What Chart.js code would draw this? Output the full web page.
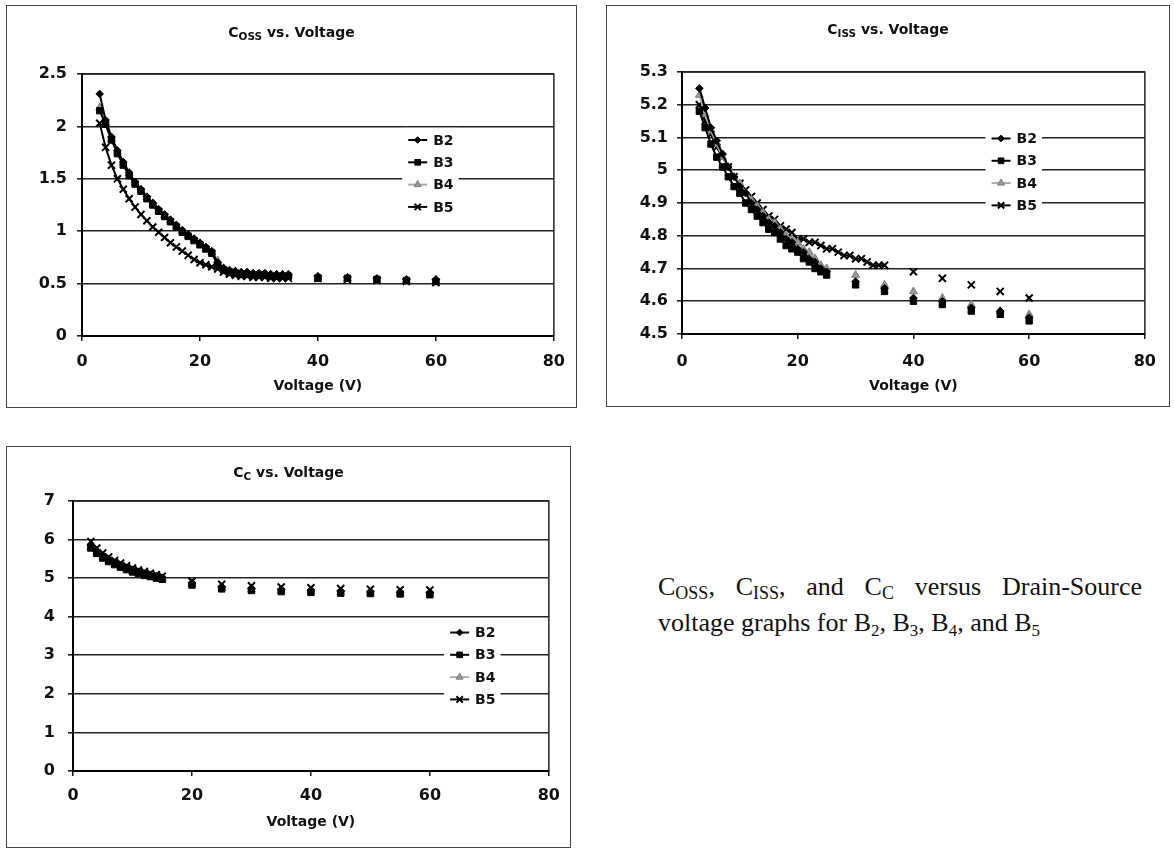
<!DOCTYPE html>
<html>
<head>
<meta charset="utf-8">
<script src="https://cdn.jsdelivr.net/npm/chart.js@4.4.0/dist/chart.umd.min.js"></script>
<style>
html,body{margin:0;padding:0;background:#fff;width:1174px;height:850px;overflow:hidden;}
.box{position:absolute;border:1px solid #444;background:#fff;}
.box canvas{position:absolute;left:0;top:0;}
.ttl{position:absolute;left:0;right:0;text-align:center;font-family:"DejaVu Sans";font-weight:bold;font-size:14px;color:#111;line-height:18px;white-space:nowrap;}
.ttl .s{font-size:10.5px;position:relative;top:3px;}
.cap{position:absolute;left:658px;font-family:"Liberation Serif";font-size:26px;color:#111;line-height:36px;}
.cap .l1{width:484px;text-align:justify;text-align-last:justify;}
.cap .sb{font-size:18px;position:relative;top:4px;line-height:0;}
.cap .sn{font-size:17px;position:relative;top:5px;line-height:0;}
</style>
</head>
<body>
<div class="box" style="left:6px;top:5px;width:569px;height:401px;">
  <canvas id="c1" width="569" height="401"></canvas>
  <div class="ttl" style="top:17px;">C<span class="s">OSS</span> vs. Voltage</div>
</div>
<div class="box" style="left:606px;top:5px;width:562px;height:400px;">
  <canvas id="c2" width="562" height="400"></canvas>
  <div class="ttl" style="top:14px;">C<span class="s">ISS</span> vs. Voltage</div>
</div>
<div class="box" style="left:6px;top:446px;width:563px;height:400px;">
  <canvas id="c3" width="563" height="400"></canvas>
  <div class="ttl" style="top:16px;">C<span class="s">C</span> vs. Voltage</div>
</div>
<div class="cap" style="top:569px;">
  <div class="l1">C<span class="sb">OSS</span>, C<span class="sb">ISS</span>, and C<span class="sb">C</span> versus Drain-Source</div>
  <div class="l2">voltage graphs for B<span class="sn">2</span>, B<span class="sn">3</span>, B<span class="sn">4</span>, and B<span class="sn">5</span></div>
</div>
<script>
// ---------------- DATA ----------------
const seriesNames = ['B2', 'B3', 'B4', 'B5'];
const voltTicks = [0, 20, 40, 60, 80];
const cossTicks = [0, 0.5, 1, 1.5, 2, 2.5];
const cissTicks = [4.5, 4.6, 4.7, 4.8, 4.9, 5, 5.1, 5.2, 5.3];
const ccTicks = [0, 1, 2, 3, 4, 5, 6, 7];

// Coss (all series share the same voltages)
const vCoss = [3,4,5,6,7,8,9,10,11,12,13,14,15,16,17,18,19,20,21,22,23,24,25,26,27,28,29,30,31,32,33,34,35,40,45,50,55,60];
const cossB2 = [2.31,2.06,1.90,1.77,1.66,1.56,1.47,1.40,1.33,1.27,1.21,1.16,1.11,1.06,1.01,0.97,0.93,0.89,0.85,0.81,0.70,0.65,0.63,0.62,0.61,0.61,0.60,0.60,0.60,0.59,0.59,0.59,0.59,0.57,0.56,0.55,0.54,0.54];
const cossB3 = [2.15,2.02,1.87,1.74,1.63,1.53,1.45,1.38,1.31,1.25,1.19,1.14,1.09,1.04,0.99,0.95,0.91,0.87,0.83,0.79,0.68,0.63,0.61,0.60,0.59,0.59,0.58,0.58,0.58,0.57,0.57,0.57,0.57,0.55,0.55,0.54,0.53,0.52];
const cossB4 = [2.18,2.03,1.88,1.76,1.65,1.55,1.46,1.39,1.32,1.26,1.20,1.15,1.10,1.05,1.00,0.96,0.92,0.88,0.84,0.80,0.72,0.64,0.62,0.61,0.60,0.60,0.59,0.59,0.59,0.58,0.58,0.58,0.58,0.56,0.55,0.54,0.53,0.53];
const cossB5 = [2.03,1.80,1.63,1.50,1.40,1.31,1.23,1.16,1.10,1.04,0.99,0.94,0.89,0.85,0.81,0.77,0.73,0.70,0.68,0.66,0.64,0.61,0.59,0.58,0.57,0.57,0.56,0.56,0.56,0.55,0.55,0.55,0.55,0.55,0.54,0.53,0.52,0.51];

// Ciss (B2-B4 dense to 25 V, B5 dense to 35 V)
const vCiss = [3,4,5,6,7,8,9,10,11,12,13,14,15,16,17,18,19,20,21,22,23,24,25,30,35,40,45,50,55,60];
const vCissB5 = [3,4,5,6,7,8,9,10,11,12,13,14,15,16,17,18,19,20,21,22,23,24,25,26,27,28,29,30,31,32,33,34,35,40,45,50,55,60];
const cissB2 = [5.25,5.19,5.13,5.09,5.05,5.01,4.98,4.95,4.93,4.90,4.88,4.86,4.84,4.83,4.81,4.79,4.78,4.76,4.75,4.73,4.72,4.70,4.69,4.66,4.64,4.61,4.60,4.58,4.57,4.55];
const cissB3 = [5.18,5.13,5.08,5.04,5.01,4.98,4.95,4.93,4.90,4.88,4.86,4.84,4.82,4.81,4.79,4.77,4.76,4.75,4.73,4.72,4.70,4.69,4.68,4.65,4.63,4.60,4.59,4.57,4.56,4.54];
const cissB4 = [5.23,5.17,5.12,5.08,5.04,5.01,4.98,4.96,4.93,4.91,4.89,4.87,4.85,4.84,4.82,4.80,4.79,4.78,4.76,4.75,4.73,4.71,4.70,4.68,4.65,4.63,4.61,4.59,4.57,4.56];
const cissB5 = [5.20,5.15,5.11,5.07,5.04,5.01,4.98,4.96,4.94,4.92,4.90,4.88,4.86,4.85,4.83,4.82,4.81,4.79,4.79,4.78,4.78,4.77,4.76,4.76,4.75,4.74,4.74,4.73,4.73,4.72,4.71,4.71,4.71,4.69,4.67,4.65,4.63,4.61];

// Cc
const vCc = [3,4,5,6,7,8,9,10,11,12,13,14,15,20,25,30,35,40,45,50,55,60];
const ccB2 = [5.85,5.70,5.58,5.48,5.40,5.33,5.27,5.21,5.16,5.12,5.08,5.05,5.01,4.88,4.78,4.74,4.71,4.69,4.67,4.65,4.64,4.63];
const ccB3 = [5.78,5.64,5.52,5.43,5.35,5.28,5.22,5.16,5.12,5.07,5.04,5.00,4.97,4.82,4.72,4.68,4.65,4.63,4.61,4.60,4.59,4.57];
const ccB4 = [5.80,5.66,5.54,5.44,5.36,5.29,5.23,5.18,5.13,5.09,5.05,5.01,4.98,4.84,4.74,4.70,4.67,4.65,4.63,4.61,4.60,4.59];
const ccB5 = [5.95,5.78,5.65,5.55,5.46,5.39,5.32,5.26,5.21,5.17,5.13,5.09,5.05,4.92,4.84,4.80,4.77,4.75,4.73,4.71,4.70,4.69];

// ---------------- STYLES ----------------
const STY = {
  B2: {shape: 'rectRot', r: 3.8, fill: '#000', stroke: '#000', line: '#000', bw: 1},
  B3: {shape: 'rect', r: 4.5, fill: '#000', stroke: '#000', line: '#000', bw: 1},
  B4: {shape: 'triangle', r: 4.5, fill: '#9a9a9a', stroke: '#7c7c7c', line: '#a9a9a9', bw: 1},
  B5: {shape: 'crossRot', r: 5, fill: '#000', stroke: '#000', line: '#000', bw: 2}
};
const FONT = 'DejaVu Sans';

function drawMarker(ctx, shape, r, x, y, fill, stroke, bw) {
  ctx.save();
  ctx.fillStyle = fill; ctx.strokeStyle = stroke; ctx.lineWidth = bw;
  ctx.beginPath();
  if (shape === 'rectRot') {
    ctx.moveTo(x, y - r); ctx.lineTo(x + r, y); ctx.lineTo(x, y + r); ctx.lineTo(x - r, y); ctx.closePath();
    ctx.fill(); ctx.stroke();
  } else if (shape === 'rect') {
    const s = r * Math.SQRT1_2;
    ctx.rect(x - s, y - s, 2 * s, 2 * s); ctx.fill(); ctx.stroke();
  } else if (shape === 'triangle') {
    ctx.moveTo(x, y - r); ctx.lineTo(x + r * 0.866, y + r * 0.5); ctx.lineTo(x - r * 0.866, y + r * 0.5); ctx.closePath();
    ctx.fill(); ctx.stroke();
  } else if (shape === 'crossRot') {
    const o = r * Math.SQRT1_2;
    ctx.moveTo(x - o, y - o); ctx.lineTo(x + o, y + o);
    ctx.moveTo(x + o, y - o); ctx.lineTo(x - o, y + o);
    ctx.stroke();
  }
  ctx.restore();
}

const insideLegend = {
  id: 'insideLegend',
  afterDatasetsDraw(chart, args, opts) {
    const ctx = chart.ctx;
    const x0 = chart.scales.x.getPixelForValue(opts.x);
    const y0 = chart.scales.y.getPixelForValue(opts.y);
    const rowH = 22.3, lineLen = 19, gap = 6;
    ctx.save();
    ctx.font = 'bold 14px "' + FONT + '"';
    let maxW = 0;
    chart.data.datasets.forEach(d => { maxW = Math.max(maxW, ctx.measureText(d.label).width); });
    const n = chart.data.datasets.length;
    ctx.fillStyle = '#fff';
    ctx.fillRect(x0 - 6, y0 - rowH / 2 - 1, lineLen + gap + maxW + 11, rowH * n + 2);
    chart.data.datasets.forEach((d, i) => {
      const s = STY[d.label];
      const y = y0 + i * rowH;
      ctx.strokeStyle = s.line; ctx.lineWidth = 2;
      ctx.beginPath(); ctx.moveTo(x0, y); ctx.lineTo(x0 + lineLen, y); ctx.stroke();
      drawMarker(ctx, s.shape, s.r - 0.5, x0 + lineLen / 2, y, s.fill, s.stroke, s.bw);
      ctx.fillStyle = '#111'; ctx.textBaseline = 'middle'; ctx.textAlign = 'left';
      ctx.fillText(d.label, x0 + lineLen + gap, y + 1);
    });
    ctx.restore();
  }
};

const plotFrame = {
  id: 'plotFrame',
  beforeDatasetsDraw(chart) {
    const {ctx, chartArea: a} = chart;
    ctx.save();
    ctx.strokeStyle = '#222'; ctx.lineWidth = 1.5;
    ctx.beginPath();
    ctx.moveTo(a.left, a.top); ctx.lineTo(a.right, a.top); ctx.lineTo(a.right, a.bottom);
    ctx.stroke();
    ctx.restore();
  }
};

function makeDataset(name, xs, ys) {
  const s = STY[name];
  return {
    label: name,
    data: xs.map((x, i) => ({x: x, y: ys[i]})),
    borderColor: s.line,
    borderWidth: 2,
    pointStyle: s.shape,
    pointRadius: s.r,
    pointBackgroundColor: s.fill,
    pointBorderColor: s.stroke,
    pointBorderWidth: s.bw,
    tension: 0,
    fill: false,
    segment: {
      borderColor: c => (c.p1.parsed.x - c.p0.parsed.x > 1.5 ? 'rgba(0,0,0,0)' : undefined)
    }
  };
}

function makeChart(id, cfg) {
  return new Chart(document.getElementById(id), {
    type: 'line',
    data: { datasets: cfg.series.map(s => makeDataset(s[0], s[1], s[2])) },
    options: {
      responsive: false,
      animation: false,
      devicePixelRatio: 1,
      layout: { padding: { top: cfg.padTop, right: cfg.padRight, left: 0, bottom: 0 } },
      plugins: {
        legend: { display: false },
        tooltip: { enabled: false },
        title: { display: false },
        insideLegend: { x: cfg.legX, y: cfg.legY }
      },
      scales: {
        x: {
          type: 'linear', min: 0, max: 80, position: 'bottom',
          afterBuildTicks: sc => { sc.ticks = voltTicks.map(v => ({value: v})); },
          afterFit: sc => { sc.height = cfg.xH; },
          grid: { drawOnChartArea: false, drawTicks: true, tickLength: 5, color: '#111', lineWidth: 1.5 },
          border: { display: true, color: '#000', width: 2 },
          ticks: { color: '#111', font: { family: FONT, size: 16, weight: 'bold' }, padding: cfg.xPad, maxRotation: 0, callback: v => String(v) },
          title: { display: true, text: 'Voltage (V)', color: '#111', font: { family: FONT, size: 14, weight: 'bold' }, padding: { top: 0, bottom: cfg.tPad } }
        },
        y: {
          type: 'linear', min: cfg.yTicks[0], max: cfg.yTicks[cfg.yTicks.length - 1],
          afterBuildTicks: sc => { sc.ticks = cfg.yTicks.map(v => ({value: v})); },
          afterFit: sc => { sc.width = cfg.yW; },
          grid: { drawOnChartArea: true, drawTicks: true, tickLength: 5, color: '#222', lineWidth: 1.6 },
          border: { display: true, color: '#000', width: 2 },
          ticks: { color: '#111', font: { family: FONT, size: 16, weight: 'bold' }, padding: cfg.yPad, callback: v => String(v) }
        }
      }
    },
    plugins: [plotFrame, insideLegend]
  });
}

makeChart('c1', {
  series: [['B2', vCoss, cossB2], ['B3', vCoss, cossB3], ['B4', vCoss, cossB4], ['B5', vCoss, cossB5]],
  yTicks: cossTicks, padTop: 68, padRight: 22, xH: 71, yW: 75, xPad: 11, yPad: 10, tPad: 12,
  legX: 55.3, legY: 1.87
});
makeChart('c2', {
  series: [['B2', vCiss, cissB2], ['B3', vCiss, cissB3], ['B4', vCiss, cissB4], ['B5', vCissB5, cissB5]],
  yTicks: cissTicks, padTop: 66, padRight: 15, xH: 72, yW: 75, xPad: 13, yPad: 9, tPad: 11,
  legX: 53.5, legY: 5.097
});
makeChart('c3', {
  series: [['B2', vCc, ccB2], ['B3', vCc, ccB3], ['B4', vCc, ccB4], ['B5', vCc, ccB5]],
  yTicks: ccTicks, padTop: 54, padRight: 17, xH: 76, yW: 66, xPad: 10, yPad: 13, tPad: 16,
  legX: 63.4, legY: 3.59
});
</script>
</body>
</html>
